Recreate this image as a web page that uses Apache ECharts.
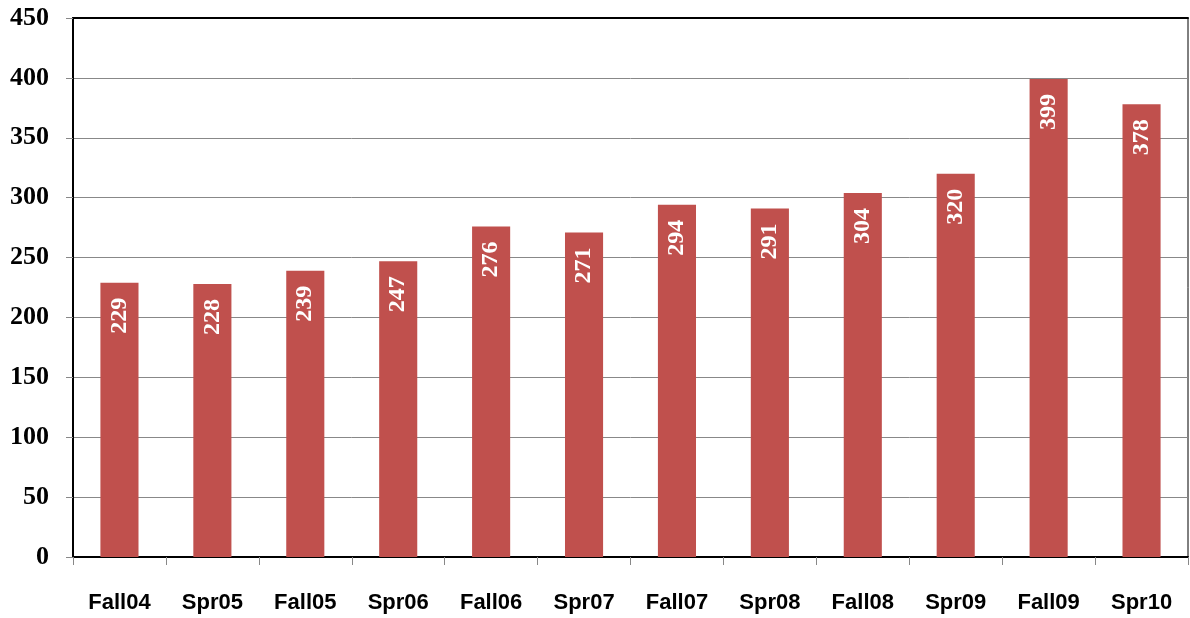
<!DOCTYPE html>
<html>
<head>
<meta charset="utf-8">
<script src="https://cdn.jsdelivr.net/npm/echarts@6/dist/echarts.min.js"></script>
<style>
  html, body { margin: 0; padding: 0; background: #fff; }
  #main { width: 1190px; height: 618px; }
</style>
</head>
<body>
<div id="main"></div>
<script>
const terms = ["Fall04", "Spr05", "Fall05", "Spr06", "Fall06", "Spr07", "Fall07", "Spr08", "Fall08", "Spr09", "Fall09", "Spr10"];
const counts = [229, 228, 239, 247, 276, 271, 294, 291, 304, 320, 399, 378];

const chart = echarts.init(document.getElementById("main"));

const option = {
  animation: false,
  grid: {
    left: 73,
    right: 2,
    top: 18,
    bottom: 61,
    show: true,
    borderColor: "#000",
    borderWidth: 1,
  },
  xAxis: [
    {
      type: "category",
      data: terms,
      axisLine: { lineStyle: { color: "#000", width: 2 } },
      axisTick: { show: true, alignWithLabel: false, length: 8, lineStyle: { color: "#888" } },
      axisLabel: {
        margin: 35,
        color: "#000",
        fontFamily: "Liberation Sans",
        fontWeight: "bold",
        fontSize: 22,
      },
    },
    {
      // top border line only
      type: "category",
      position: "top",
      data: terms,
      axisLine: { lineStyle: { color: "#000", width: 2 } },
      axisTick: { show: false },
      axisLabel: { show: false },
    },
  ],
  yAxis: {
    type: "value",
    min: 0,
    max: 450,
    interval: 50,
    axisLine: { show: true, lineStyle: { color: "#000", width: 2 } },
    axisTick: { show: true, length: 7, lineStyle: { color: "#888" } },
    splitLine: { lineStyle: { color: "#888", width: 1 } },
    axisLabel: {
      margin: 24,
      color: "#000",
      fontFamily: "Liberation Serif",
      fontWeight: "bold",
      fontSize: 26,
    },
  },
  series: [
    {
      type: "bar",
      data: counts,
      barWidth: "41%",
      itemStyle: { color: "#C0504D" },
      label: {
        show: true,
        position: "insideTop",
        rotate: 90,
        align: "right",
        verticalAlign: "middle",
        distance: 15,
        color: "#fff",
        fontFamily: "Liberation Serif",
        fontWeight: "bold",
        fontSize: 24,
      },
    },
  ],
};

chart.setOption(option);
</script>
</body>
</html>
